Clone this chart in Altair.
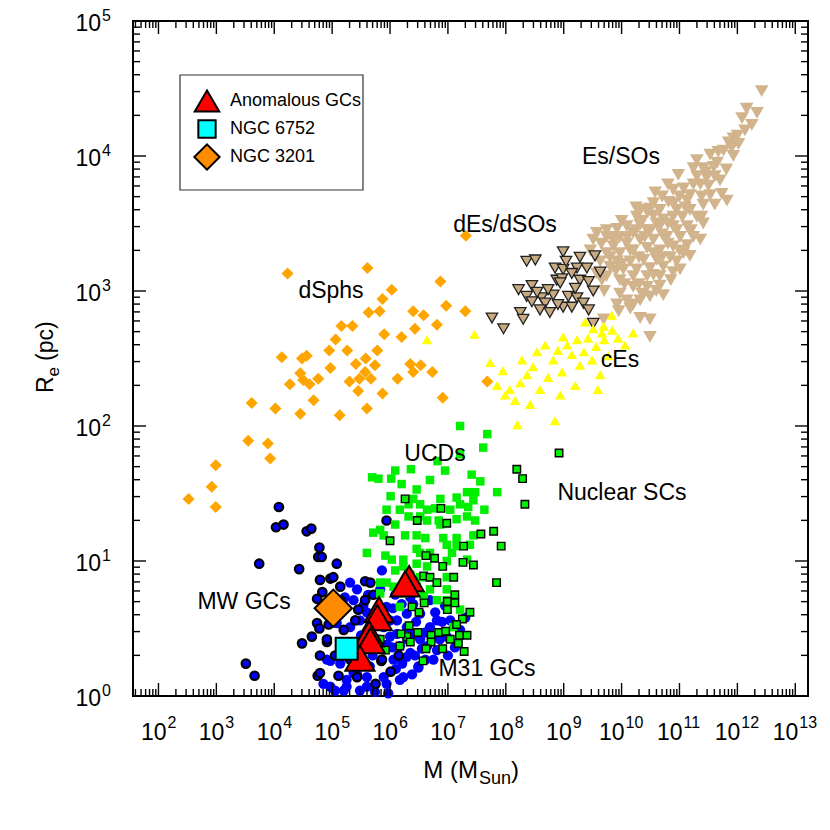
import altair as alt
import pandas as pd
import numpy as np

FONT = "Liberation Sans"
W = H = 675
X_DOMAIN = [10 ** 1.56, 10 ** 13.22]
Y_DOMAIN = [1.0, 1e5]

x_exps = list(range(2, 14))
y_exps = list(range(0, 6))

# (log10 M [Msun], log10 Re [pc])
dsph = [(4.23,3.13),(5.61,3.17),(6.87,3.07),(6.03,3.01),(5.87,2.94),(5.63,2.84),(5.82,2.85),(6.40,2.85),
        (6.58,2.82),(6.97,2.89),(7.30,2.85),(5.16,2.74),(5.35,2.74),(5.90,2.68),(6.20,2.66),(6.43,2.72),
        (6.81,2.75),(5.06,2.64),(4.95,2.56),(5.26,2.56),(5.78,2.56),(4.13,2.51),(4.48,2.50),(4.56,2.52),
        (5.58,2.50),(5.41,2.46),(5.74,2.45),(6.35,2.46),(6.53,2.45),(4.97,2.43),(6.40,2.40),(6.73,2.40),
        (4.45,2.39),(5.57,2.40),(4.76,2.35),(5.47,2.35),(5.67,2.35),(6.13,2.35),(4.50,2.34),(4.27,2.31),
        (4.61,2.31),(5.30,2.33),(5.45,2.26),(5.87,2.24),(6.91,2.21),(4.68,2.19),(3.61,2.17),(4.02,2.13),
        (4.45,2.09),(5.13,2.08),(5.60,2.13),(3.55,1.89),(3.89,1.87),(3.93,1.76),(2.99,1.71),(2.92,1.55),
        (2.52,1.46),(2.99,1.40),(7.31,3.41),(7.68,2.33)]

ces = [(6.64,2.64),(7.46,2.68),(9.83,2.82),(9.69,2.74),(9.51,2.72),(9.66,2.69),(10.20,2.69),(8.99,2.66),
       (8.20,2.01),(8.85,2.04),(7.73,2.47),(7.95,2.41),(8.07,2.27),(8.16,2.19),(8.25,2.32),(8.37,2.38),
       (8.47,2.44),(8.54,2.55),(8.68,2.60),(8.73,2.36),(8.82,2.49),(8.90,2.56),(8.97,2.40),(9.06,2.60),
       (9.14,2.53),(9.23,2.64),(9.28,2.45),(9.35,2.55),(9.42,2.65),(9.49,2.49),(9.56,2.59),(9.63,2.38),
       (9.70,2.64),(9.77,2.52),(9.84,2.71),(9.59,2.27),(9.20,2.30),(8.59,2.27),(8.42,2.16),(7.99,2.23),
       (8.28,2.49),(9.37,2.77),(9.94,2.65),(10.06,2.60),(7.85,2.30),(8.94,2.23)]

des = [(8.99,3.29),(8.36,3.22),(8.51,3.23),(9.28,3.25),(9.54,3.26),(8.85,3.17),(8.99,3.16),(9.23,3.17),
       (9.40,3.17),(8.88,3.08),(8.97,3.09),(9.14,3.13),(9.28,3.08),(9.43,3.07),(8.45,3.04),(8.94,3.06),
       (8.22,3.01),(8.36,2.96),(8.45,2.92),(8.62,2.95),(8.68,2.91),(8.82,2.97),(8.99,2.88),(9.08,2.96),
       (9.23,2.95),(9.14,2.88),(9.34,2.91),(9.51,3.00),(9.43,2.86),(8.25,2.84),(8.59,2.86),(8.76,2.84),
       (8.30,2.79),(7.76,2.80),(7.96,2.72),(9.51,2.76),(8.73,3.01),(9.20,3.02),(8.90,2.90),(8.54,2.99),
       (9.63,3.14),(9.04,3.22)]

es = [(12.42,4.48),(12.16,4.35),(12.34,4.32),(12.08,4.28),(11.93,4.13),(12.02,4.09),(11.90,4.06),(11.76,4.04),
      (11.67,4.03),(11.93,4.00),(11.53,4.01),(11.59,3.92),(11.41,3.91),(11.24,3.91),(11.30,3.85),(11.47,3.84),
      (11.61,3.85),(11.70,3.82),(10.98,3.86),(11.07,3.76),(11.24,3.79),(10.89,3.75),(11.73,3.72),(11.53,3.71),
      (11.38,3.70),(11.13,3.67),(10.81,3.66),(10.55,3.65),(10.49,3.61),(10.32,3.60),(10.66,3.60),(10.95,3.60),
      (11.18,3.60),(11.41,3.64),(11.38,3.55),(10.89,3.55),(10.72,3.53),(10.55,3.56),(10.26,3.55),(10.09,3.48),
      (9.92,3.46),(9.74,3.45),(9.57,3.43),(9.51,3.38),(9.74,3.40),(9.97,3.40),(10.20,3.43),(10.44,3.45),
      (10.66,3.48),(10.89,3.48),(11.13,3.48),(11.41,3.50),(11.24,3.40),(11.01,3.40),(10.78,3.40),(10.55,3.38),
      (10.32,3.38),(10.09,3.35),(9.86,3.33),(9.74,3.28),(9.97,3.28),(10.20,3.30),(10.44,3.32),(10.66,3.30),
      (10.89,3.33),(11.13,3.34),(11.07,3.28),(10.84,3.25),(10.61,3.23),(10.38,3.23),(10.15,3.22),(9.92,3.22),
      (9.80,3.18),(10.03,3.16),(10.26,3.16),(10.49,3.17),(10.72,3.18),(10.95,3.22),(10.89,3.14),(10.66,3.11),
      (10.44,3.11),(10.20,3.11),(9.97,3.08),(9.74,3.11),(9.66,3.08),(9.97,2.98),(10.20,3.03),(10.44,3.03),
      (10.66,3.04),(10.09,2.93),(10.32,2.93),(10.49,2.96),(10.15,2.87),(10.49,2.79),(10.49,2.66),(9.57,3.13),
      (9.69,2.79),(10.80,3.79),(10.58,3.73),(11.81,3.90),(12.13,4.19),(12.25,4.23),(11.36,3.79),(11.18,3.71),
      (10.32,3.49),(9.85,3.38),(9.46,3.30),(9.63,3.22),(9.92,2.90),(10.72,2.97),(11.01,3.16),(11.18,3.26),
      (11.36,3.38),(11.61,3.64),(11.82,3.67),(10.32,2.80),(10.00,3.52),(10.10,3.40),(10.25,3.45),(10.35,3.52),
      (10.45,3.58),(10.60,3.50),(10.70,3.42),(10.80,3.50),(10.95,3.45),(11.05,3.55),(10.15,3.30),(10.30,3.25),
      (10.40,3.40),(10.55,3.28),(10.70,3.25),(10.80,3.35),(11.00,3.30),(9.90,3.15),(10.05,3.05),(10.30,3.05),
      (10.55,3.12),(10.60,3.00),(10.35,2.98),(9.80,3.25),(9.65,3.35),(9.90,3.40),(10.00,3.20),(10.50,3.45),
      (10.90,3.65),(11.10,3.62),(11.20,3.45),(11.30,3.55),(11.50,3.78),(11.45,3.88),(11.00,3.70),(10.70,3.70),
      (11.30,3.97),(11.85,4.10),(12.00,4.15),(11.65,3.95),(9.95,2.85),(10.20,2.90),(9.70,3.00),(10.85,3.08),
      (10.25,3.62)]

mw_gcs = [(4.08,1.40),(4.03,1.25),(4.16,1.27),(4.56,1.22),(4.64,1.24),(4.78,1.10),(4.76,1.03),(3.74,0.98),
          (4.43,0.94),(4.97,0.87),(4.83,0.77),(4.74,0.72),(4.74,0.54),(4.78,0.50),(4.65,0.44),(4.48,0.39),
          (4.91,0.40),(3.51,0.24),(3.66,0.15),(4.75,0.15),(5.11,0.15),(5.75,0.09),(5.85,0.26),(6.01,0.18),
          (6.15,0.30),(5.05,0.30),(5.94,1.30),(5.08,0.98),(4.82,1.03),(5.02,0.88),(4.79,0.86),(5.57,0.85),
          (5.66,0.84),(5.71,0.75),(5.14,0.81),(5.45,0.64),(4.94,0.53),(5.20,0.49),(4.91,0.42),(5.43,0.14),
          (5.86,0.27),(4.79,0.17),(4.88,0.67),(5.14,0.71),(4.97,0.60),(5.22,0.38),(4.79,0.30),(5.31,0.27),
          (5.57,0.71),(5.40,0.56)]

m31_gcs = [(4.85,0.09),(4.97,0.26),(5.20,0.04),(5.25,0.12),(5.43,0.16),(5.60,0.14),(5.89,0.14),(6.17,0.12),
           (6.49,0.21),(6.06,0.27),(6.29,0.29),(6.43,0.30),(5.86,0.93),(5.31,0.84),(5.43,0.79),(5.37,0.71),
           (5.54,0.67),(5.94,0.66),(6.12,0.56),(6.29,0.51),(6.40,0.46),(6.52,0.42),(6.69,0.51),(6.81,0.56),
           (6.78,0.62),(6.64,0.37),(6.49,0.22),(6.35,0.32),(6.17,0.37),(6.00,0.44),(5.89,0.51),(5.66,0.46),
           (4.91,0.27),(5.14,0.24),(5.37,0.17),(5.60,0.07),(5.25,0.07),(4.97,0.07),(6.23,0.14),(5.94,0.09),
           (6.98,0.44),(7.21,0.49),(6.81,0.34),(6.12,0.46),(6.29,0.61),(6.52,0.61),(6.00,0.56),(5.77,0.56),
           (5.48,0.56),(5.31,0.51),(5.08,0.54),(5.22,0.73),(5.62,0.75),(5.79,0.42),(6.04,0.36),(6.21,0.24),
           (6.38,0.16),(6.61,0.27),(6.86,0.42),(7.04,0.56),(6.95,0.67),(6.09,0.75),(5.83,0.79),(5.48,0.04),
           (5.74,0.03),(5.05,0.04),(5.97,0.02),(6.69,0.71),(6.35,0.73),(7.12,0.36),(7.30,0.58),(5.55,0.35),
           (5.70,0.30),(5.95,0.38),(6.10,0.20),(5.80,0.60),(6.20,0.68),(6.45,0.55),(6.60,0.47),(5.65,0.22),
           (5.35,0.30),(6.30,0.42),(6.55,0.35),(6.75,0.27),(5.50,0.45),(6.05,0.65),(5.60,0.62),(6.90,0.55),
           (7.00,0.30),(6.40,0.68),(5.45,0.25)]

ucds = [(7.21,2.00),(7.68,1.94),(7.61,1.84),(6.82,1.74),(6.36,1.68),(5.69,1.62),(5.80,1.61),(6.02,1.61),
        (6.20,1.57),(7.41,1.64),(7.56,1.59),(7.33,1.51),(7.47,1.51),(7.85,1.51),(6.46,1.53),(6.01,1.48),
        (6.40,1.46),(6.87,1.46),(7.15,1.47),(7.44,1.45),(5.94,1.38),(6.17,1.38),(6.32,1.42),(6.52,1.42),
        (6.64,1.38),(6.78,1.39),(7.04,1.38),(7.21,1.42),(7.35,1.40),(7.63,1.38),(6.32,1.33),(6.52,1.33),
        (6.64,1.30),(7.33,1.33),(7.47,1.30),(7.15,1.31),(6.84,1.30),(5.83,1.23),(5.89,1.19),(5.71,1.21),
        (6.26,1.19),(6.46,1.19),(6.61,1.17),(6.92,1.17),(7.15,1.17),(7.44,1.19),(6.98,1.12),(7.15,1.11),
        (6.46,1.09),(5.60,1.06),(5.92,1.04),(6.52,1.06),(6.69,1.06),(7.07,1.06),(6.23,1.01),(6.03,1.01),
        (6.46,0.98),(6.64,0.96),(6.98,1.00),(7.33,1.01),(6.23,0.96),(5.94,0.84),(5.83,0.84),(6.64,0.88),
        (6.52,0.88),(6.98,0.88),(6.46,0.81),(6.69,0.79),(6.98,0.79),(6.58,0.74),(6.98,0.71),(6.23,0.76),
        (5.83,0.76),(6.81,0.71),(6.06,0.81),(6.17,0.66),(7.09,0.51),(7.21,0.64),(6.09,1.67),(6.69,1.60),
        (6.95,1.67),(7.21,1.79),(6.87,1.27),(6.09,1.27),(7.38,1.12),(6.35,0.90),(6.09,0.93)]

nscs = [(8.92,1.80),(8.19,1.68),(8.29,1.61),(8.33,1.42),(6.26,1.46),(6.88,1.39),(6.47,1.30),(6.98,1.28),
        (6.00,1.15),(7.57,1.20),(7.79,1.22),(7.92,1.11),(7.27,1.11),(6.62,1.04),(6.77,1.02),(6.91,0.96),
        (7.26,0.99),(7.44,0.97),(7.10,0.88),(6.58,0.89),(6.69,0.88),(6.81,0.84),(7.84,0.84),(7.12,0.75),
        (6.99,0.70),(7.12,0.69),(6.99,0.64),(6.38,0.66),(6.50,0.62),(6.59,0.69),(7.38,0.62),(7.25,0.57),
        (6.33,0.52),(6.48,0.47),(6.71,0.45),(6.84,0.47),(6.96,0.48),(7.15,0.53),(7.04,0.42),(7.20,0.45),
        (7.33,0.45),(6.29,0.44),(6.17,0.37),(6.35,0.40),(6.71,0.40),(6.91,0.35),(7.18,0.39),(6.62,0.35),
        (7.28,0.33),(6.57,0.26),(6.19,0.46),(5.92,0.34),(5.83,0.42)]

anomalous = [(6.33,0.87),(6.26,0.83),(5.81,0.64),(5.78,0.58),(5.64,0.46),(5.66,0.41),(5.48,0.28)]
ngc6752 = [(5.25,0.35)]
ngc3201 = [(5.02,0.65)]

group_labels = ["Es/SOs", "dEs/dSOs", "dSphs", "cEs", "UCDs", "Nuclear SCs", "MW GCs", "M31 GCs"]
legend_labels = ["Anomalous GCs", "NGC 6752", "NGC 3201"]

xs = alt.Scale(type="log", domain=X_DOMAIN, nice=False)
ys = alt.Scale(type="log", domain=Y_DOMAIN, nice=False)
one = pd.DataFrame({"a": [0]})


def frame(pairs):
    a = np.array(pairs, dtype=float)
    return pd.DataFrame({"M": 10 ** a[:, 0], "Re": 10 ** a[:, 1]})


def pts(pairs, shape, size, fill, stroke=None, sw=0.0):
    kw = dict(shape=shape, size=size, filled=True, fill=fill, opacity=1, fillOpacity=1)
    if stroke:
        kw.update(stroke=stroke, strokeWidth=sw, strokeOpacity=1)
    else:
        kw.update(strokeWidth=0)
    return alt.Chart(frame(pairs)).mark_point(**kw).encode(
        x=alt.X("M:Q", scale=xs, axis=None),
        y=alt.Y("Re:Q", scale=ys, axis=None),
    )


layers = []
layers.append(pts(es, "triangle-down", 185, "#D2B48C"))
layers.append(pts(des, "triangle-down", 130, "#C8AA80", "#222222", 1.3))
layers.append(pts(ces, "triangle-up", 110, "#FFFF00"))
layers.append(pts(dsph, "diamond", 145, "#FFA500"))
layers.append(pts(m31_gcs, "circle", 105, "#0000FF"))
layers.append(pts(mw_gcs, "circle", 72, "#0000FF", "#000000", 2.2))
layers.append(pts(ucds, "square", 72, "#00EE00"))
layers.append(pts(nscs, "square", 56, "#00EE00", "#000000", 1.4))
layers.append(pts(anomalous, "triangle-up", 850, "#FF0000", "#000000", 2))
layers.append(pts(ngc3201, "diamond", 1400, "#FF8C00", "#000000", 2))
layers.append(pts(ngc6752, "square", 480, "#00FFFF", "#000000", 2))

# ---- inward ticks on all four sides ----
x_major = [10.0 ** e for e in x_exps]
x_minor = [k * 10.0 ** e for e in range(1, 13) for k in range(2, 10)
           if X_DOMAIN[0] <= k * 10.0 ** e <= X_DOMAIN[1]]
y_major = [10.0 ** e for e in y_exps]
y_minor = [k * 10.0 ** e for e in range(0, 5) for k in range(2, 10)]


def xticks(vals, length):
    base = alt.Chart(pd.DataFrame({"v": vals})).mark_rule(color="black", strokeWidth=1.4)
    xe = alt.X("v:Q", scale=xs, axis=None)
    return [base.encode(x=xe, y=alt.value(H), y2=alt.value(H - length)),
            base.encode(x=xe, y=alt.value(0), y2=alt.value(length))]


def yticks(vals, length):
    base = alt.Chart(pd.DataFrame({"v": vals})).mark_rule(color="black", strokeWidth=1.4)
    ye = alt.Y("v:Q", scale=ys, axis=None)
    return [base.encode(y=ye, x=alt.value(0), x2=alt.value(length)),
            base.encode(y=ye, x=alt.value(W), x2=alt.value(W - length))]


layers += xticks(x_major, 13) + xticks(x_minor, 7) + yticks(y_major, 13) + yticks(y_minor, 7)

# ---- tick labels: 10 with superscript exponent ----
TICK_FS, SUP_FS = 23, 16
for digits, d10, dexp in [(1, 8, 9), (2, 3, 4)]:
    ex = [e for e in x_exps if len(str(e)) == digits]
    df = pd.DataFrame({"v": [10.0 ** e for e in ex], "e": [str(e) for e in ex]})
    xe = alt.X("v:Q", scale=xs, axis=None)
    layers.append(alt.Chart(df).mark_text(text="10", align="right", baseline="middle", dx=d10,
                                          font=FONT, fontSize=TICK_FS, color="black")
                  .encode(x=xe, y=alt.value(H + 37)))
    layers.append(alt.Chart(df).mark_text(align="left", baseline="middle", dx=dexp,
                                          font=FONT, fontSize=SUP_FS, color="black")
                  .encode(x=xe, y=alt.value(H + 27), text="e:N"))

dfy = pd.DataFrame({"v": [10.0 ** e for e in y_exps], "e": [str(e) for e in y_exps]})
ye = alt.Y("v:Q", scale=ys, axis=None)
layers.append(alt.Chart(dfy).mark_text(text="10", align="right", baseline="middle", dy=3,
                                       font=FONT, fontSize=TICK_FS, color="black")
              .encode(y=ye, x=alt.value(-32)))
layers.append(alt.Chart(dfy).mark_text(align="left", baseline="middle", dy=-5,
                                       font=FONT, fontSize=SUP_FS, color="black")
              .encode(y=ye, x=alt.value(-31), text="e:N"))


def txt(s, x, y, size=22, align="left", angle=0, dx=0, dy=0, baseline="alphabetic"):
    return alt.Chart(one).mark_text(text=s, align=align, baseline=baseline, angle=angle, dx=dx, dy=dy,
                                    font=FONT, fontSize=size, color="black").encode(
        x=alt.value(x), y=alt.value(y))


# axis titles
layers.append(txt("M (M", 345, 757, size=24, align="right"))
layers.append(txt("Sun", 346, 757, size=18, dy=6))
layers.append(txt(")", 378, 757, size=24))
layers.append(txt("R", -80, 372, size=23, angle=270))
layers.append(txt("e", -80, 355.5, size=17, angle=270, dy=6))
layers.append(txt("(pc)", -80, 340, size=23, angle=270))

# group annotations
ann_pos = [(488, 136), (372, 204), (198, 270), (487, 339), (302, 433), (489, 472), (111, 581), (354, 648)]
for lab, (ax, ay) in zip(group_labels, ann_pos):
    layers.append(txt(lab, ax, ay, size=23, align="center", baseline="middle"))

# legend box
layers.append(alt.Chart(one).mark_rect(fill="white", stroke="#333333", strokeWidth=1.2).encode(
    x=alt.value(47), x2=alt.value(230), y=alt.value(54), y2=alt.value(169)))
leg_rows = [80, 108, 136]
leg_sym = [("triangle-up", 600, "#FF0000"), ("square", 300, "#00FFFF"), ("diamond", 640, "#FF8C00")]
for (shape, size, col), ry, lab in zip(leg_sym, leg_rows, legend_labels):
    layers.append(alt.Chart(one).mark_point(shape=shape, size=size, filled=True, fill=col, stroke="black",
                                            strokeWidth=2, opacity=1).encode(
        x=alt.value(74), y=alt.value(ry)))
    layers.append(txt(lab, 97, ry, size=18, baseline="middle"))

chart = alt.layer(*layers).properties(
    width=W, height=H,
    autosize=alt.AutoSizeParams(type="none"),
    padding={"left": 125, "top": 13, "right": 12, "bottom": 100},
).configure_view(stroke="black", strokeWidth=2)

chart.save("out.html", embed_options={"renderer": "svg", "actions": False})
